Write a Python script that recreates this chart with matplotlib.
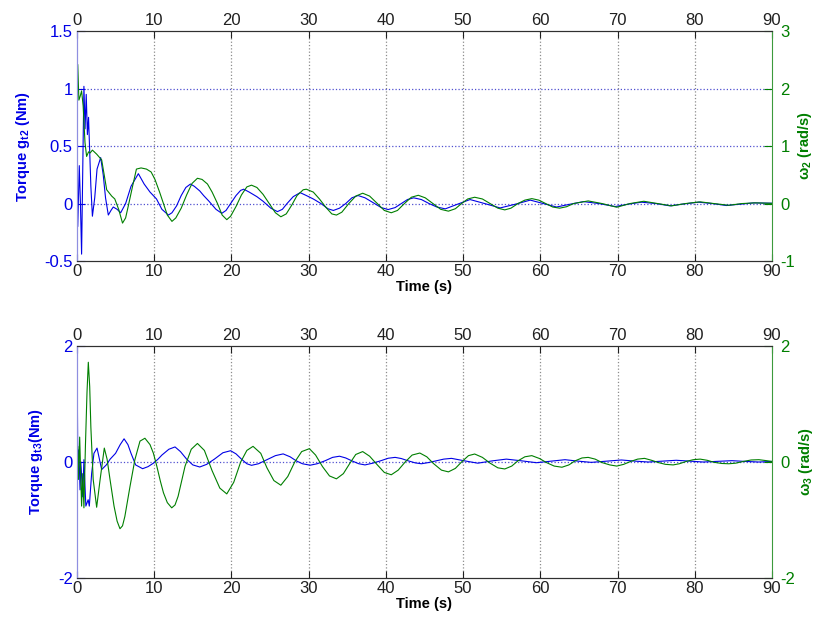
import matplotlib
matplotlib.use("Agg")
import matplotlib.pyplot as plt

plt.rcParams['font.family'] = ['Liberation Sans', 'DejaVu Sans']
plt.rcParams['mathtext.fontset'] = 'custom'
plt.rcParams['mathtext.rm'] = 'Liberation Sans'
plt.rcParams['mathtext.it'] = 'Liberation Sans:italic'
plt.rcParams['mathtext.bf'] = 'Liberation Sans:bold'

# ---------------- data ----------------
# Top panel: torque g_t2 (left axis) and omega_2 (right axis)
t_gt2 = [0, 0.1, 0.3, 0.45, 0.6, 0.75, 0.9, 1.05, 1.2, 1.35, 1.5, 1.65, 1.8, 2.0, 2.3, 2.6, 3.07,
         3.4, 3.7, 4.06, 4.4, 4.7, 5.2, 5.66, 6.3, 7.0, 7.95, 8.7, 9.46, 10.3, 11.0, 11.84, 12.3,
         12.9, 13.5, 14.1, 14.7, 15.2, 15.9, 16.4, 17.1, 18.0, 18.75, 19.3, 19.9, 20.6, 21.2,
         21.6, 22.3, 23.3, 24.1, 25.1, 25.96, 26.6, 27.2, 28.0, 28.9, 29.7, 30.6, 31.6, 32.5,
         33.2, 34.0, 34.8, 35.6, 36.4, 37.3, 38.3, 39.4, 40.3, 41.2, 42.0, 42.8, 43.6, 44.6,
         45.6, 46.6, 47.7, 49.3, 50.9, 52.8, 54.8, 56.8, 58.7, 60.4, 62.1, 63.9, 65.6, 67.6,
         69.7, 71.4, 73.1, 75.0, 76.8, 78.6, 80.5, 82.3, 84.1, 85.9, 87.6, 90]
gt2 = [0.0, -0.2, 0.33, 0.0, -0.44, 0.3, 1.02, 0.65, 0.95, 0.6, 0.75, 0.45, 0.15, -0.11, 0.05,
       0.3, 0.4, 0.25, 0.05, -0.1, -0.06, -0.03, -0.05, -0.08, 0.0, 0.15, 0.26, 0.17, 0.1, 0.04,
       -0.05, -0.1, -0.08, -0.02, 0.07, 0.14, 0.17, 0.15, 0.11, 0.07, 0.02, -0.05, -0.085, -0.06,
       0.0, 0.07, 0.115, 0.125, 0.1, 0.06, 0.02, -0.04, -0.07, -0.05, 0.0, 0.06, 0.095, 0.07,
       0.04, 0.0, -0.045, -0.06, -0.04, 0.0, 0.05, 0.07, 0.05, 0.01, -0.035, -0.052, -0.035,
       0.0, 0.035, 0.05, 0.035, 0.0, -0.03, -0.046, -0.005, 0.035, 0.0, -0.038, -0.005, 0.03,
       0.0, -0.03, -0.005, 0.017, 0.0, -0.026, -0.005, 0.012, 0.0, -0.02, -0.003, 0.012, 0.0,
       -0.017, -0.005, 0.006, 0.003]

t_w2 = [0, 0.1, 0.25, 0.4, 0.6, 0.8, 1.04, 1.25, 1.5, 1.7, 2.0, 2.55, 3.2, 3.85, 4.5, 4.9, 5.4,
        5.9, 6.3, 6.65, 7.2, 7.7, 8.3, 9.0, 9.6, 10.1, 10.7, 11.2, 11.7, 12.3, 12.8, 13.5, 14.2,
        14.9, 15.6, 16.2, 16.9, 17.5, 18.2, 18.8, 19.4, 19.9, 20.6, 21.3, 22.0, 22.6, 23.3,
        24.1, 24.9, 25.7, 26.4, 27.1, 27.8, 28.5, 29.3, 29.7, 30.6, 31.4, 32.2, 33.0, 33.6,
        34.3, 35.2, 36.1, 37.0, 37.9, 38.9, 39.8, 40.7, 41.5, 42.4, 43.3, 44.2, 45.1, 46.1,
        47.1, 48.1, 49.0, 49.8, 50.6, 51.5, 52.5, 53.5, 54.5, 55.4, 56.2, 57.1, 58.0, 58.9,
        59.8, 60.7, 61.6, 62.5, 63.4, 64.3, 66.2, 68.0, 69.9, 71.6, 73.4, 75.2, 77.0, 78.8,
        80.7, 82.5, 84.4, 86.1, 87.8, 90]
w2 = [1.6, 2.42, 1.8, 1.86, 1.96, 1.7, 1.06, 0.82, 0.9, 0.88, 0.93, 0.86, 0.76, 0.24, 0.13,
      0.08, -0.1, -0.34, -0.25, -0.04, 0.3, 0.6, 0.62, 0.6, 0.55, 0.42, 0.2, 0.0, -0.2, -0.31,
      -0.25, -0.08, 0.15, 0.35, 0.44, 0.42, 0.34, 0.2, 0.0, -0.2, -0.28, -0.22, -0.05, 0.15,
      0.29, 0.32, 0.28, 0.16, 0.0, -0.16, -0.23, -0.18, -0.03, 0.14, 0.24, 0.25, 0.2, 0.08,
      -0.06, -0.18, -0.2, -0.15, 0.0, 0.13, 0.18, 0.13, 0.0, -0.12, -0.16, -0.12, 0.0, 0.11,
      0.144, 0.1, 0.0, -0.1, -0.132, -0.09, 0.0, 0.08, 0.11, 0.08, 0.0, -0.08, -0.11, -0.08,
      0.0, 0.06, 0.086, 0.06, 0.0, -0.06, -0.08, -0.055, 0.0, 0.046, 0.0, -0.064, 0.0, 0.04,
      0.0, -0.04, 0.0, 0.03, 0.0, -0.03, 0.0, 0.012, 0.004]

# Bottom panel: torque g_t3 (left axis) and omega_3 (right axis)
t_gt3 = [0, 0.05, 0.12, 0.25, 0.4, 0.5, 0.75, 0.9, 1.15, 1.45, 1.6, 1.9, 2.2, 2.6, 3.2, 3.8,
         4.3, 5.0, 5.6, 6.1, 6.6, 7.0, 7.6, 8.5, 9.2, 9.9, 10.5, 11.0, 11.9, 12.7, 13.4, 14.2,
         15.0, 15.9, 16.8, 17.8, 18.9, 19.9, 20.6, 21.3, 22.0, 22.6, 23.5, 24.6, 25.7, 26.7,
         27.6, 28.4, 29.2, 30.2, 31.1, 32.1, 33.1, 34.0, 34.8, 35.6, 36.5, 37.3, 38.3, 39.3,
         40.3, 41.2, 42.0, 42.9, 43.8, 44.6, 45.5, 46.5, 47.5, 48.5, 50.2, 51.9, 53.8, 55.6,
         57.6, 59.5, 61.4, 63.2, 64.9, 66.6, 68.6, 70.5, 72.3, 74.0, 75.8, 77.6, 79.4, 81.1,
         83.0, 84.8, 86.6, 88.3, 90]
gt3 = [0.0, 1.12, -0.3, 0.21, -0.48, 0.0, -0.6, 0.04, -0.76, -0.65, -0.76, -0.2, 0.15, 0.24,
       -0.13, -0.05, 0.05, 0.15, 0.3, 0.40, 0.3, 0.15, -0.05, -0.115, -0.08, -0.02, 0.05, 0.12,
       0.22, 0.26, 0.18, 0.05, -0.05, -0.086, -0.04, 0.05, 0.16, 0.195, 0.14, 0.05, -0.03,
       -0.057, -0.03, 0.04, 0.11, 0.14, 0.09, 0.02, -0.03, -0.055, -0.03, 0.02, 0.08, 0.1,
       0.07, 0.02, -0.03, -0.05, -0.02, 0.02, 0.065, 0.08, 0.06, 0.02, -0.015, -0.03, -0.01,
       0.02, 0.05, 0.063, 0.02, -0.02, 0.02, 0.05, 0.02, -0.012, 0.015, 0.04, 0.015, -0.006,
       0.015, 0.035, 0.015, 0.0, 0.015, 0.03, 0.015, 0.0, 0.012, 0.023, 0.01, 0.0, 0.01]

t_w3 = [0, 0.1, 0.2, 0.35, 0.6, 0.75, 0.9, 1.1, 1.3, 1.47, 1.65, 1.8, 2.1, 2.55, 3.0, 3.54,
        3.9, 4.28, 4.8, 5.2, 5.57, 5.9, 6.2, 6.87, 7.5, 8.16, 8.8, 9.46, 9.9, 10.3, 10.8, 11.2,
        11.7, 12.27, 12.7, 13.1, 14.0, 14.8, 15.6, 16.5, 17.5, 18.5, 19.4, 20.3, 21.2, 22.0,
        22.8, 23.8, 24.6, 25.5, 26.4, 27.3, 28.2, 29.1, 30.1, 30.9, 31.8, 32.7, 33.6, 34.5,
        35.3, 36.1, 37.0, 37.9, 38.9, 39.8, 40.7, 41.6, 42.5, 43.4, 44.4, 45.3, 46.2, 47.2,
        48.1, 49.0, 49.8, 50.7, 51.5, 52.5, 53.5, 54.5, 55.4, 56.3, 57.1, 58.0, 58.9, 59.9,
        60.8, 61.8, 62.8, 63.7, 64.5, 65.4, 66.2, 67.1, 68.0, 69.0, 69.9, 70.8, 71.7, 72.6,
        73.5, 74.4, 75.3, 76.2, 77.2, 78.0, 78.9, 79.8, 80.7, 81.6, 82.5, 83.5, 84.4, 85.3,
        86.3, 87.3, 88.3, 89.2, 90]
w3 = [0.0, 0.27, -0.3, 0.43, -0.76, -0.2, -0.79, 0.3, 1.2, 1.72, 1.3, 0.6, -0.3, -0.78, -0.3,
      0.24, 0.05, -0.30, -0.76, -1.02, -1.15, -1.1, -0.94, -0.42, 0.04, 0.36, 0.41, 0.3, 0.15,
      -0.05, -0.33, -0.53, -0.7, -0.79, -0.74, -0.59, -0.07, 0.22, 0.32, 0.2, -0.15, -0.45,
      -0.55, -0.35, 0.0, 0.2, 0.27, 0.15, -0.1, -0.32, -0.40, -0.25, 0.0, 0.18, 0.23, 0.12,
      -0.08, -0.24, -0.29, -0.2, -0.03, 0.13, 0.18, 0.1, -0.05, -0.18, -0.22, -0.14, 0.0,
      0.12, 0.155, 0.09, -0.03, -0.14, -0.17, -0.11, 0.0, 0.11, 0.138, 0.08, -0.02, -0.1,
      -0.12, -0.07, 0.02, 0.09, 0.11, 0.06, -0.01, -0.07, -0.09, -0.05, 0.02, 0.07, 0.08,
      0.05, -0.01, -0.05, -0.07, -0.04, 0.01, 0.05, 0.063, 0.03, -0.01, -0.04, -0.05, -0.03,
      0.01, 0.04, 0.05, 0.03, -0.005, -0.025, -0.03, -0.02, 0.01, 0.035, 0.04, 0.025, 0.01]

xticks = [0, 10, 20, 30, 40, 50, 60, 70, 80, 90]
top_left_ticks = [-0.5, 0, 0.5, 1, 1.5]
top_right_ticks = [-1, 0, 1, 2, 3]
bot_ticks = [-2, 0, 2]

BLUE = '#0000e6'
GREEN = '#007f00'

fig = plt.figure(figsize=(8.17, 6.23), dpi=100)


def style_panel(ax, axr, yl, yr, lticks, rticks, llabel, rlabel, hgrid_ticks):
    ax.set_xlim(0, 90)
    ax.set_ylim(*yl)
    axr.set_ylim(*yr)
    ax.set_xticks(xticks)
    ax.set_yticks(lticks)
    axr.set_yticks(rticks)
    ax.set_yticklabels([f'{v:g}' for v in lticks])
    axr.set_yticklabels([f'{v:g}' for v in rticks])
    ax.tick_params(axis='x', direction='in', top=True, labeltop=True, labelsize=12,
                   length=5, colors='#202020', pad=2)
    ax.tick_params(axis='y', direction='in', colors=BLUE, labelsize=12, length=6, pad=3)
    axr.tick_params(axis='y', direction='in', colors=GREEN, labelsize=12, length=6, pad=6)
    for v in xticks[1:-1]:
        ax.axvline(v, color='#8c8c8c', linestyle=':', linewidth=0.9, zorder=0)
    for v in hgrid_ticks:
        ax.axhline(v, color='#5050d0', linestyle=':', linewidth=0.9, zorder=0)
    for s in ('top', 'bottom'):
        ax.spines[s].set_color('#303030')
        axr.spines[s].set_color('#303030')
    ax.spines['left'].set_color('#8f8fe0')
    axr.spines['left'].set_color('#8f8fe0')
    axr.spines['right'].set_color('#3c9a3c')
    ax.spines['right'].set_visible(False)
    ax.set_xlabel('Time (s)', fontsize=10.5, fontweight='bold', labelpad=1)
    ax.set_ylabel(llabel, fontsize=10.5, fontweight='bold', color=BLUE, labelpad=9)
    axr.set_ylabel(rlabel, fontsize=10.5, fontweight='bold', color=GREEN, labelpad=1)


# ---------------- top panel ----------------
ax1 = fig.add_axes([0.0942, 0.581, 0.8507, 0.369])
ax1r = ax1.twinx()
ax1.plot(t_gt2, gt2, color=BLUE, linewidth=0.8)
ax1r.plot(t_w2, w2, color=GREEN, linewidth=0.8)
style_panel(ax1, ax1r, (-0.5, 1.5), (-1, 3), top_left_ticks, top_right_ticks,
            r'Torque g$_\mathbf{t2}$ (Nm)', r'$\mathbf{\omega_2}$ (rad/s)', [0, 0.5, 1])

# ---------------- bottom panel ----------------
ax2 = fig.add_axes([0.0942, 0.0722, 0.8507, 0.3724])
ax2r = ax2.twinx()
ax2.plot(t_gt3, gt3, color=BLUE, linewidth=0.8)
ax2r.plot(t_w3, w3, color=GREEN, linewidth=0.8)
style_panel(ax2, ax2r, (-2, 2), (-2, 2), bot_ticks, bot_ticks,
            r'Torque g$_\mathbf{t3}$(Nm)', r'$\mathbf{\omega_3}$ (rad/s)', [0])

fig.savefig('out.png', dpi=100)
